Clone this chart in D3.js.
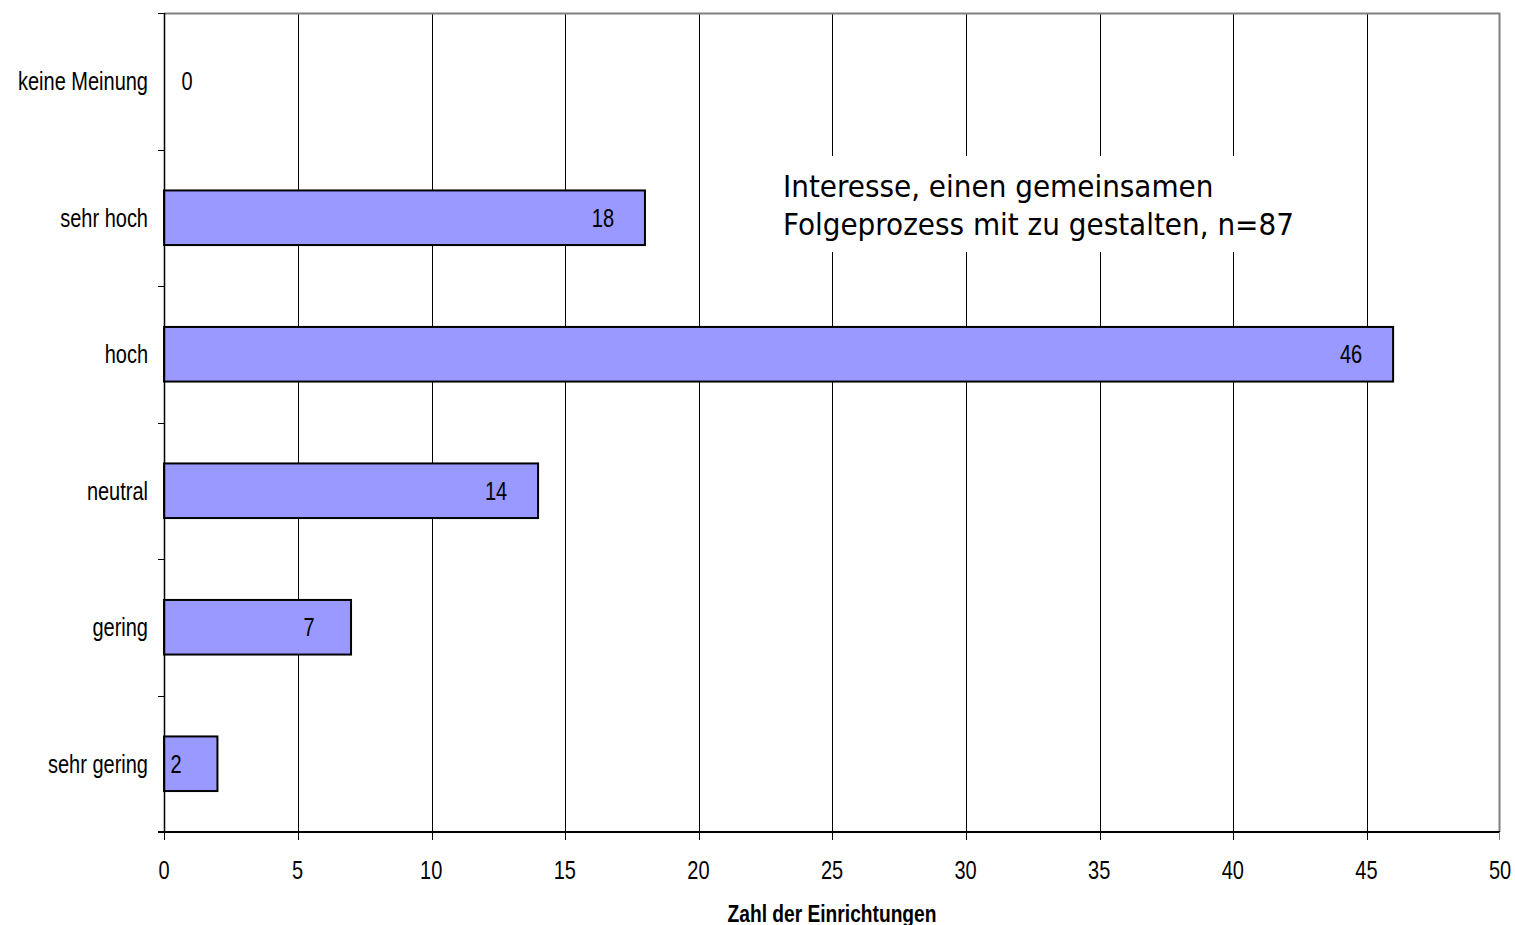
<!DOCTYPE html>
<html>
<head>
<meta charset="utf-8">
<script src="https://cdn.jsdelivr.net/npm/d3@7"></script>
<style>
  body { margin: 0; background: #fff; }
  svg text { font-family: "Liberation Sans", Arial, sans-serif; }
</style>
</head>
<body>
<div id="chart"></div>
<script>
var categories = ["keine Meinung", "sehr hoch", "hoch", "neutral", "gering", "sehr gering"];
var counts = [0, 18, 46, 14, 7, 2];
var xTicks = [0, 5, 10, 15, 20, 25, 30, 35, 40, 45, 50];
var titleLines = ["Interesse, einen gemeinsamen", "Folgeprozess mit zu gestalten, n=87"];
var xTitle = "Zahl der Einrichtungen";

var plotLeft = 164, plotRight = 1500, plotTop = 13, plotBottom = 832;
var narrow = 0.8;  // horizontal squeeze to mimic Arial Narrow

var svg = d3.select("#chart")
            .append("svg")
            .attr("width", 1515)
            .attr("height", 925);

var scale_X = d3.scaleLinear().domain([0, 50]).range([plotLeft, plotRight]);
var scale_Y = d3.scaleBand().domain(categories).range([plotTop, plotBottom])
                .paddingInner(0.6).paddingOuter(0.3);

function narrowText(sel, x, y) {
    sel.attr("transform", function(d, i){
        return "translate(" + x(d, i) + "," + y(d, i) + ") scale(" + narrow + ",1)";
    });
}
function gx(d) { return Math.ceil(scale_X(d)) + 0.5; }

// gridlines
svg.append("g").selectAll("line")
   .data(xTicks.filter(function(d){ return d > 0 && d < 50; }))
   .enter().append("line")
   .attr("x1", gx).attr("x2", gx)
   .attr("y1", plotTop).attr("y2", plotBottom)
   .attr("stroke", "#000").attr("stroke-width", 1);

// plot frame (top/right gray)
svg.append("path")
   .attr("d", "M" + plotLeft + "," + (plotTop + 0.5) + "H" + (plotRight - 0.5) + "V" + plotBottom)
   .attr("fill", "none").attr("stroke", "#808080").attr("stroke-width", 2);

// title box
var titleG = svg.append("g");
titleG.append("rect")
   .attr("x", 776).attr("y", 156).attr("width", 532).attr("height", 96)
   .attr("fill", "#fff");
titleG.selectAll("text").data(titleLines).enter().append("text")
   .attr("x", 783)
   .attr("y", function(d, i){ return 197 + i * 38; })
   .style("font-family", "'DejaVu Sans Condensed', Tahoma, 'DejaVu Sans', sans-serif")
   .style("font-size", "31px")
   .attr("fill", "#000")
   .text(function(d){ return d; });

// bars
svg.append("g").selectAll("rect")
   .data(categories.map(function(c, i){ return {cat: c, value: counts[i]}; })
                   .filter(function(d){ return d.value > 0; }))
   .enter().append("rect")
   .attr("x", scale_X(0))
   .attr("y", function(d){ return scale_Y(d.cat); })
   .attr("width", function(d){ return scale_X(d.value) - scale_X(0); })
   .attr("height", scale_Y.bandwidth())
   .attr("fill", "#9999ff").attr("stroke", "#000").attr("stroke-width", 2);

// value labels
svg.append("g").selectAll("text")
   .data(counts)
   .enter().append("text")
   .call(narrowText,
         function(d){ return d > 0 ? Math.max(scale_X(d) - 42, scale_X(0) + 12) : scale_X(0) + 23; },
         function(d, i){ return scale_Y(categories[i]) + scale_Y.bandwidth() / 2; })
   .attr("dy", "0.35em")
   .attr("text-anchor", "middle")
   .style("font-size", "25px")
   .text(function(d){ return d; });

// y axis
var yAxisG = svg.append("g");
yAxisG.append("line").attr("x1", plotLeft + 0.5).attr("x2", plotLeft + 0.5)
   .attr("y1", plotTop).attr("y2", plotBottom).attr("stroke", "#000").attr("stroke-width", 1.5);
var yBounds = d3.range(categories.length + 1);
yAxisG.selectAll("line.tick").data(yBounds).enter().append("line")
   .attr("class", "tick")
   .attr("x1", plotLeft - 6).attr("x2", plotLeft)
   .attr("y1", function(d){ return Math.round(plotTop + d * scale_Y.step()) + 0.5; })
   .attr("y2", function(d){ return Math.round(plotTop + d * scale_Y.step()) + 0.5; })
   .attr("stroke", "#000").attr("stroke-width", 1);
yAxisG.selectAll("text").data(categories).enter().append("text")
   .call(narrowText,
         function(){ return plotLeft - 16; },
         function(d){ return scale_Y(d) + scale_Y.bandwidth() / 2; })
   .attr("dy", "0.35em")
   .attr("text-anchor", "end")
   .style("font-size", "25px")
   .text(function(d){ return d; });

// x axis
var xAxisG = svg.append("g").attr("transform", "translate(0," + plotBottom + ")");
xAxisG.append("line").attr("x1", plotLeft - 6).attr("x2", plotRight).attr("y1", 0).attr("y2", 0)
   .attr("stroke", "#000").attr("stroke-width", 2);
xAxisG.selectAll("line.tick").data(xTicks).enter().append("line")
   .attr("class", "tick")
   .attr("x1", function(d){ return d === 0 ? plotLeft + 0.5 : gx(d) - (d === 50 ? 1 : 0); })
   .attr("x2", function(d){ return d === 0 ? plotLeft + 0.5 : gx(d) - (d === 50 ? 1 : 0); })
   .attr("y1", 0).attr("y2", 8)
   .attr("stroke", function(d){ return d === 50 ? "#808080" : "#000"; });
xAxisG.selectAll("text").data(xTicks).enter().append("text")
   .call(narrowText,
         function(d){ return scale_X(d); },
         function(){ return 38; })
   .attr("dy", "0.35em")
   .attr("text-anchor", "middle")
   .style("font-size", "25px")
   .text(function(d){ return d; });

svg.append("text")
   .call(narrowText, function(){ return (plotLeft + plotRight) / 2; }, function(){ return 922; })
   .attr("text-anchor", "middle")
   .style("font-size", "24px")
   .style("font-weight", "bold")
   .text(xTitle);
</script>
</body>
</html>
